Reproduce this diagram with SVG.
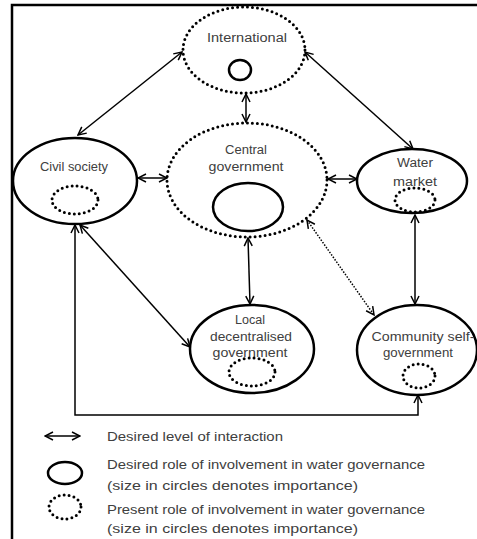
<svg xmlns="http://www.w3.org/2000/svg" width="477" height="539" viewBox="0 0 477 539">
<defs>
<marker id="ah" viewBox="0 0 10 10" refX="9" refY="5" markerWidth="10" markerHeight="10" markerUnits="userSpaceOnUse" orient="auto-start-reverse">
<path d="M1,1 L9,5 L1,9" fill="none" stroke="#000" stroke-width="1.5"/>
</marker>
<style>
.solid{fill:none;stroke:#000;stroke-width:2.5}
.dot{fill:none;stroke:#000;stroke-width:3;stroke-dasharray:0 5;stroke-linecap:round}
.con{fill:none;stroke:#000;stroke-width:1.5;marker-start:url(#ah);marker-end:url(#ah)}
.dcon{fill:none;stroke:#000;stroke-width:1.5;stroke-dasharray:1.5 1.5;marker-start:url(#ah);marker-end:url(#ah)}
text{font-family:"Liberation Sans",Arial,sans-serif;font-size:12.5px;fill:#404040}
.c{text-anchor:middle}
.lg{font-size:13px}
</style>
</defs>
<rect width="477" height="539" fill="#fff"/>
<path d="M12,539 V5 H477" fill="none" stroke="#000" stroke-width="2.5"/>

<g id="connectors">
<line class="con" x1="78" y1="135" x2="182" y2="52"/>
<line class="con" x1="305" y1="52" x2="413" y2="149"/>
<line class="con" x1="246" y1="94" x2="246" y2="122"/>
<line class="con" x1="138" y1="178" x2="167" y2="178"/>
<line class="con" x1="328" y1="179" x2="357" y2="179"/>
<line class="con" x1="248" y1="238" x2="250" y2="304"/>
<line class="dcon" x1="307" y1="220" x2="374" y2="315"/>
<line class="con" x1="415" y1="215" x2="415" y2="304"/>
<line class="con" x1="80" y1="225" x2="190" y2="347"/>
<path class="con" d="M75,225 V415 H418 V395"/>
</g>

<g id="international">
<ellipse class="dot" cx="244" cy="50" rx="61" ry="43"/>
<text class="c" x="247" y="42" textLength="80" lengthAdjust="spacingAndGlyphs">International</text>
<ellipse class="solid" cx="240" cy="70" rx="11" ry="10"/>
</g>

<g id="civil-society">
<ellipse class="solid" cx="75" cy="181" rx="62" ry="43"/>
<text class="c" x="74" y="171" textLength="68" lengthAdjust="spacingAndGlyphs">Civil society</text>
<ellipse class="dot" cx="75" cy="200" rx="23" ry="14"/>
</g>

<g id="central-government">
<ellipse class="dot" cx="247" cy="180" rx="80" ry="57"/>
<text class="c" x="246" y="154" textLength="42" lengthAdjust="spacingAndGlyphs">Central</text>
<text class="c" x="246" y="171" textLength="75" lengthAdjust="spacingAndGlyphs">government</text>
<ellipse class="solid" cx="248" cy="207" rx="35" ry="24"/>
</g>

<g id="water-market">
<ellipse class="solid" cx="412" cy="181" rx="55" ry="32"/>
<text class="c" x="415" y="167" textLength="36" lengthAdjust="spacingAndGlyphs">Water</text>
<text class="c" x="415" y="186" textLength="44" lengthAdjust="spacingAndGlyphs">market</text>
<ellipse class="dot" cx="415" cy="200" rx="20" ry="12"/>
</g>

<g id="local-government">
<ellipse class="solid" cx="252" cy="349" rx="62" ry="44"/>
<text class="c" x="250" y="324" textLength="30" lengthAdjust="spacingAndGlyphs">Local</text>
<text class="c" x="251" y="341" textLength="82" lengthAdjust="spacingAndGlyphs">decentralised</text>
<text class="c" x="250" y="357" textLength="75" lengthAdjust="spacingAndGlyphs">government</text>
<ellipse class="dot" cx="252" cy="372" rx="23" ry="14"/>
</g>

<g id="community-self-government">
<ellipse class="solid" cx="417" cy="350" rx="60" ry="45"/>
<text class="c" x="423" y="341" textLength="103" lengthAdjust="spacingAndGlyphs">Community self-</text>
<text class="c" x="418" y="357" textLength="70" lengthAdjust="spacingAndGlyphs">government</text>
<ellipse class="dot" cx="419" cy="376" rx="16" ry="12"/>
</g>

<g id="legend">
<line class="con" x1="45" y1="436" x2="80" y2="436"/>
<text class="lg" x="107" y="441" textLength="176" lengthAdjust="spacingAndGlyphs">Desired level of interaction</text>
<ellipse class="solid" cx="65" cy="473" rx="17" ry="11"/>
<text class="lg" x="107" y="469" textLength="318" lengthAdjust="spacingAndGlyphs">Desired role of involvement in water governance</text>
<text class="lg" x="107" y="490" textLength="251" lengthAdjust="spacingAndGlyphs">(size in circles denotes importance)</text>
<ellipse class="dot" cx="65" cy="507" rx="16" ry="12"/>
<text class="lg" x="107" y="514" textLength="318" lengthAdjust="spacingAndGlyphs">Present role of involvement in water governance</text>
<text class="lg" x="107" y="533" textLength="251" lengthAdjust="spacingAndGlyphs">(size in circles denotes importance)</text>
</g>
</svg>
